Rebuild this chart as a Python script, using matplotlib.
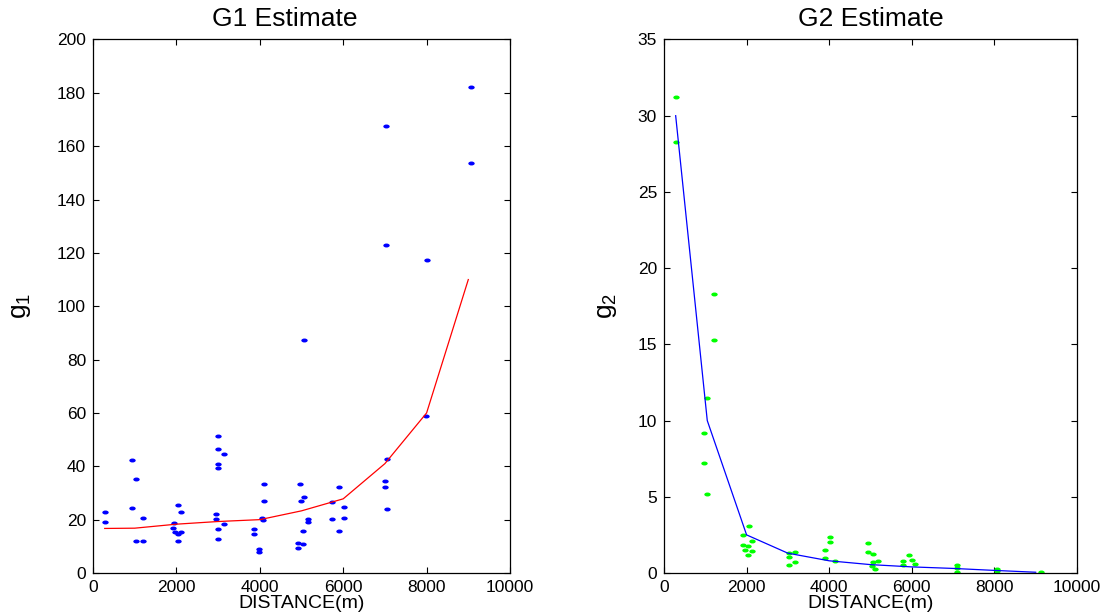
#!/usr/bin/env python3
"""G1 / G2 estimates versus distance, two panels side by side."""

import matplotlib
matplotlib.use("Agg")
import matplotlib.pyplot as plt
from matplotlib.path import Path
from matplotlib.transforms import Affine2D

plt.rcParams["font.family"] = ["Liberation Sans", "DejaVu Sans"]

# G1 measurements (distance in m, g1)
g1_dist = [281, 281,
           945, 1041, 945, 1041, 1202, 1202,
           2027, 2107, 1947, 1923, 1971, 2027, 2107, 2027,
           2988, 2988, 3149, 2988, 2988, 2949, 2949, 3149, 2988, 2988,
           3870, 3870, 3990, 3990, 4055, 4070, 4111, 4111,
           4976, 5070, 4992, 5152, 5152, 5032, 4911, 5032, 4911, 5072,
           5737, 5897, 6017, 5737, 6017, 5897,
           7060, 6995, 6995, 7060, 7019, 7019,
           7997, 8012,
           9055, 9055]
g1_val = [22.8, 19.3,
          42.3, 35.2, 24.4, 12.0, 12.0, 20.6,
          25.6, 22.8, 18.9, 16.8, 15.5, 14.6, 15.5, 12.0,
          51.3, 46.5, 44.5, 41.0, 39.3, 22.3, 20.1, 18.4, 16.4, 12.9,
          16.4, 14.6, 9.0, 7.8, 20.8, 19.9, 33.4, 27.0,
          33.4, 28.4, 27.0, 20.1, 19.3, 15.9, 11.4, 10.9, 9.5, 87.2,
          26.5, 32.2, 24.9, 20.1, 20.6, 15.9,
          42.8, 34.6, 32.2, 24.0, 167.7, 123.0,
          59.0, 117.4,
          182.2, 153.7]

# G1 fitted curve
g1_fit_dist = [281, 1000, 2000, 3000, 4000, 5000, 6000, 7000, 8000, 9000]
g1_fit_val = [16.7, 16.8, 18.3, 19.3, 20.0, 23.3, 27.8, 41.0, 60.0, 110.0]

# G2 measurements (distance in m, g2)
g2_dist = [283, 283, 1211, 1211, 1048, 969, 969, 1048,
           2058, 1921, 2138, 1921, 2042, 1961, 2138, 2042,
           3017, 3172, 3017, 3172, 3017,
           4019, 4019, 3898, 3898, 4140,
           4932, 4932, 5068, 5068, 5190, 5030, 5110,
           5940, 5793, 5793, 5994, 6075,
           7087, 7087, 7087,
           8055, 8055,
           9121]
g2_val = [31.2, 28.3, 18.3, 15.3, 11.5, 9.2, 7.2, 5.2,
          3.1, 2.5, 2.1, 1.85, 1.74, 1.53, 1.44, 1.15,
          1.31, 1.35, 1.02, 0.69, 0.52,
          2.36, 2.05, 1.53, 0.98, 0.76,
          1.98, 1.37, 1.24, 0.71, 0.76, 0.48, 0.24,
          1.15, 0.76, 0.5, 0.83, 0.61,
          0.5, 0.33, 0.07,
          0.26, 0.1,
          0.04]

# G2 fitted curve
g2_fit_dist = [283, 1048, 2000, 3000, 4000, 5000, 6000, 7000, 8000, 9000]
g2_fit_val = [30.0, 10.0, 2.5, 1.3, 0.8, 0.55, 0.4, 0.3, 0.17, 0.05]

# the reference is horizontally stretched, so dots come out as flat ellipses
DOT = Path.unit_circle().transformed(Affine2D().scale(1.0, 0.62))


def style_axes(ax, title, title_x, ylabel, ylabelpad, ylim, yticks):
    ax.set_xlim(0, 10000)
    ax.set_xticks(range(0, 10001, 2000))
    ax.set_ylim(*ylim)
    ax.set_yticks(yticks)
    ax.set_title(title, fontsize=19, pad=10, x=title_x)
    ax.set_xlabel("DISTANCE(m)", fontsize=14, labelpad=0)
    ax.set_ylabel(ylabel, fontsize=19, labelpad=ylabelpad)
    ax.tick_params(direction="in", top=True, right=True, labelsize=12.5,
                   length=4, width=0.8, pad=5)
    for spine in ax.spines.values():
        spine.set_linewidth(0.9)


def main() -> None:
    fig = plt.figure(figsize=(11.15, 6.15), dpi=100)
    ax1 = fig.add_axes([0.0834, 0.0683, 0.374, 0.8675])
    ax2 = fig.add_axes([0.5955, 0.0683, 0.3704, 0.8675])

    ax1.plot(g1_dist, g1_val, linestyle="none", marker=DOT, color="#0000ff",
             markersize=4.6, markeredgewidth=0)
    ax1.plot(g1_fit_dist, g1_fit_val, color="#ff0000", linewidth=0.9)
    style_axes(ax1, "G1 Estimate", 0.46, "$\\mathregular{g_1}$", 17,
               (0, 200), range(0, 201, 20))

    ax2.plot(g2_dist, g2_val, linestyle="none", marker=DOT, color="#00ff00",
             markersize=4.6, markeredgewidth=0)
    ax2.plot(g2_fit_dist, g2_fit_val, color="#0000ff", linewidth=0.9)
    style_axes(ax2, "G2 Estimate", 0.5, "$\\mathregular{g_2}$", 13,
               (0, 35), range(0, 36, 5))

    fig.savefig("out.png", dpi=100)
    plt.close(fig)


if __name__ == "__main__":
    main()
